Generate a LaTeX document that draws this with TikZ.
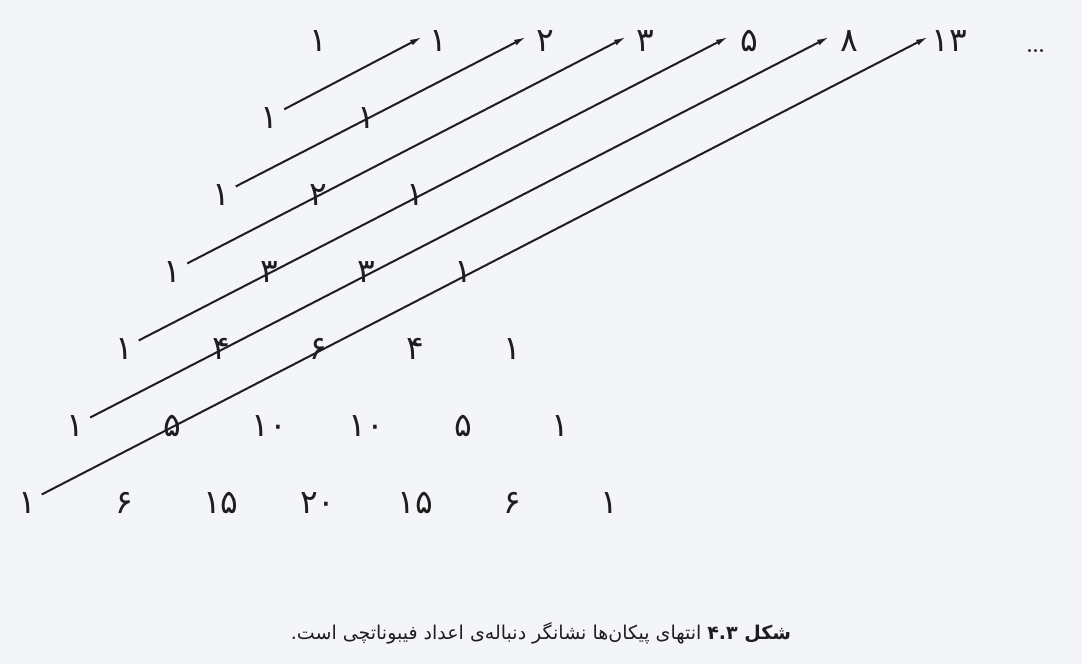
\documentclass[tikz,border=0pt]{standalone}
\usepackage{fontspec}
\usetikzlibrary{arrows.meta}
\TeXXeTstate=1
\newfontfamily\arabicfont[Script=Arabic]{DejaVu Sans}
\definecolor{paper}{RGB}{244,245,249}
\definecolor{ink}{RGB}{30,30,30}
\tikzset{
  num/.style={font=\arabicfont\fontsize{33}{40}\selectfont, text=ink, inner sep=3pt, text height=23pt, text depth=0pt},
  fib/.style={num},
  arr/.style={draw=ink, line width=2pt, -{Latex[length=12pt,width=6pt]}, shorten <=3pt},
}
\newcommand\pnode[3]{\node[num] (p#1-#2) at ({318+97*(#2-#1/2)},{40+77*#1}) {#3};}
\begin{document}
\begin{tikzpicture}[x=1pt,y=-1pt]
\useasboundingbox (0,0) rectangle (1082,664);
\fill[paper] (0,0) rectangle (1082,664);
% Pascal triangle
\pnode{0}{0}{۱}
\pnode{1}{0}{۱} \pnode{1}{1}{۱}
\pnode{2}{0}{۱} \pnode{2}{1}{۲} \pnode{2}{2}{۱}
\pnode{3}{0}{۱} \pnode{3}{1}{۳} \pnode{3}{2}{۳} \pnode{3}{3}{۱}
\pnode{4}{0}{۱} \pnode{4}{1}{۴} \pnode{4}{2}{۶} \pnode{4}{3}{۴} \pnode{4}{4}{۱}
\pnode{5}{0}{۱} \pnode{5}{1}{۵} \pnode{5}{2}{۱۰} \pnode{5}{3}{۱۰} \pnode{5}{4}{۵} \pnode{5}{5}{۱}
\pnode{6}{0}{۱} \pnode{6}{1}{۶} \pnode{6}{2}{۱۵} \pnode{6}{3}{۲۰} \pnode{6}{4}{۱۵} \pnode{6}{5}{۶} \pnode{6}{6}{۱}
% Fibonacci labels
\node[fib] (f1) at (438,40) {۱};
\node[fib] (f2) at (545,40) {۲};
\node[fib] (f3) at (645,40) {۳};
\node[fib] (f4) at (749,40) {۵};
\node[fib] (f5) at (849,40) {۸};
\node[fib] (f6) at (949,40) {۱۳};
\node[font=\fontsize{36}{40}\selectfont, text=ink, anchor=base, inner sep=0pt] (dots) at (1036,52) {\ldots};
% arrow tips
\coordinate (t1) at (422,37);
\coordinate (t2) at (526,37);
\coordinate (t3) at (626,37);
\coordinate (t4) at (728,37);
\coordinate (t5) at (829,37);
\coordinate (t6) at (928,37);
% arrows along shallow diagonals
\draw[arr] (p1-0) -- (t1);
\draw[arr] (p2-0) -- (t2);
\draw[arr] (p3-0) -- (t3);
\draw[arr] (p4-0) -- (t4);
\draw[arr] (p5-0) -- (t5);
\draw[arr] (p6-0) -- (t6);
% caption
\node[font=\arabicfont\fontsize{19}{24}\selectfont, text=ink, inner sep=0pt] (cap) at (541,633)
  {\beginR\textbf{شکل \beginL۴.۳\endL{}} انتهای پیکان‌ها نشانگر دنباله‌ی اعداد فیبوناتچی است.\endR};
\end{tikzpicture}
\end{document}
